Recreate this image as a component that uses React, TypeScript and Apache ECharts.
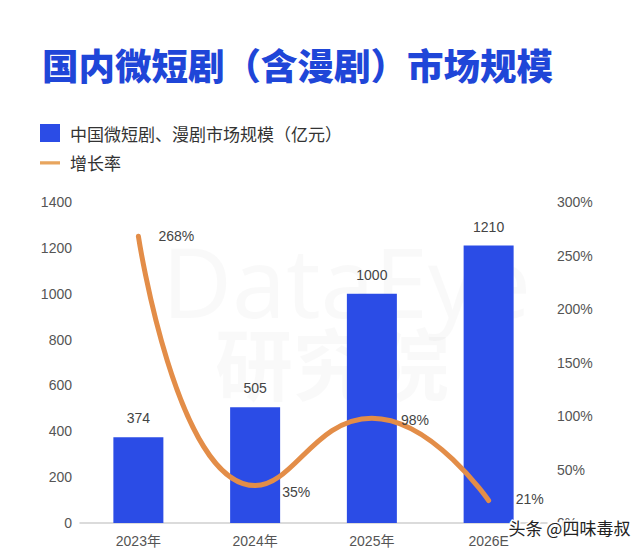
import React, { useEffect, useRef } from "react";
import * as echarts from "echarts";

const TITLE = "国内微短剧（含漫剧）市场规模";
const categories = ["2023年", "2024年", "2025年", "2026E"];
const marketSize = [374, 505, 1000, 1210];
const growthRate = [268, 35, 98, 21];
const barName = "中国微短剧、漫剧市场规模（亿元）";
const lineName = "增长率";
const leftTicks = { min: 0, max: 1400, interval: 200 };
const rightTicks = { min: 0, max: 300, interval: 50 };

// label placement tweaks for the growth-rate labels (style only)
const rateLabelDistance = [20, 27, 29, 27];
const rateLabelOffset = [
  [0, 0],
  [0, 6],
  [0, 2],
  [0, -2],
];

const LATIN = "'Liberation Sans', 'Noto Sans CJK SC', sans-serif";
const CJK = "'Noto Sans CJK SC', sans-serif";
const LINE_ICON =
  "path://M0,0 L0.01,0 L0,0.01 Z M0,7.5 L21,7.5 L21,11 L0,11 Z M21,18 L20.99,18 L21,17.99 Z";

export default function App() {
  const ref = useRef<HTMLDivElement>(null);
  useEffect(() => {
    if (!ref.current) return;
    const chart = echarts.init(ref.current, null, { renderer: "svg" });
    chart.setOption({
      animation: false,
      backgroundColor: "#ffffff",
      title: {
        text: TITLE,
        left: 42,
        top: 46,
        padding: 0,
        textStyle: {
          fontSize: 36.5,
          fontWeight: 900,
          color: "#1F46D8",
          fontFamily: CJK,
        },
      },
      legend: {
        orient: "vertical",
        left: 40,
        top: 124,
        padding: 0,
        itemWidth: 20,
        itemHeight: 18,
        itemGap: 12,
        data: [
          { name: barName, icon: "rect" },
          { name: lineName, icon: LINE_ICON, itemStyle: { color: "#E8A55E" } },
        ],
        textStyle: {
          fontSize: 17,
          color: "#333",
          fontFamily: CJK,
          padding: [0, 0, 0, 5],
        },
      },
      grid: { left: 80, right: 93, top: 202, bottom: 30 },
      xAxis: {
        type: "category",
        data: categories,
        axisTick: { show: false },
        axisLine: { lineStyle: { color: "#cfcfcf", width: 1.5 } },
        axisLabel: {
          fontSize: 14,
          color: "#555",
          margin: 11,
          fontFamily: LATIN,
        },
      },
      yAxis: [
        {
          type: "value",
          ...leftTicks,
          splitLine: { show: false },
          axisLine: { show: false },
          axisTick: { show: false },
          axisLabel: {
            fontSize: 14,
            color: "#555",
            margin: 8,
            fontFamily: LATIN,
            formatter: (v: number) => String(v),
          },
        },
        {
          type: "value",
          ...rightTicks,
          splitLine: { show: false },
          axisLine: { show: false },
          axisTick: { show: false },
          axisLabel: {
            fontSize: 14,
            color: "#555",
            margin: 10,
            formatter: "{value}%",
            fontFamily: LATIN,
          },
        },
      ],
      graphic: [
        {
          type: "text",
          left: 162,
          top: 232,
          z: -10,
          silent: true,
          style: {
            text: "DataEye",
            fontSize: 96,
            fontFamily: "'Noto Sans', sans-serif",
            fill: "rgba(0,0,0,0.022)",
          },
        },
        {
          type: "text",
          left: 215,
          top: 322,
          z: -10,
          silent: true,
          style: {
            text: "研究院",
            fontSize: 78,
            fontWeight: "bold",
            fontFamily: CJK,
            fill: "rgba(0,0,0,0.022)",
          },
        },
        {
          type: "text",
          left: 507,
          top: 517,
          z: 100,
          style: {
            text: "头条 @四味毒叔",
            fontSize: 17,
            fontFamily: CJK,
            fill: "#222",
            stroke: "#fff",
            lineWidth: 3,
          },
        },
      ],
      series: [
        {
          name: barName,
          type: "bar",
          data: marketSize,
          barWidth: 50,
          itemStyle: { color: "#2B4CE6" },
          label: {
            show: true,
            position: "top",
            distance: 12,
            fontSize: 14,
            color: "#444",
            fontFamily: LATIN,
          },
        },
        {
          name: lineName,
          type: "line",
          yAxisIndex: 1,
          data: growthRate.map((v, i) => ({
            value: v,
            label: { distance: rateLabelDistance[i], offset: rateLabelOffset[i] },
          })),
          smooth: 0.5,
          symbol: "circle",
          symbolSize: 0,
          showSymbol: true,
          lineStyle: { color: "#E38D48", width: 5, cap: "round" },
          itemStyle: { color: "#E38D48" },
          label: {
            show: true,
            position: "right",
            fontSize: 14,
            color: "#444",
            formatter: "{c}%",
            fontFamily: LATIN,
          },
          z: 5,
        },
      ],
    });
    return () => chart.dispose();
  }, []);
  return (
    <div
      ref={ref}
      style={{ position: "fixed", left: 0, top: 0, width: 640, height: 553 }}
    />
  );
}
